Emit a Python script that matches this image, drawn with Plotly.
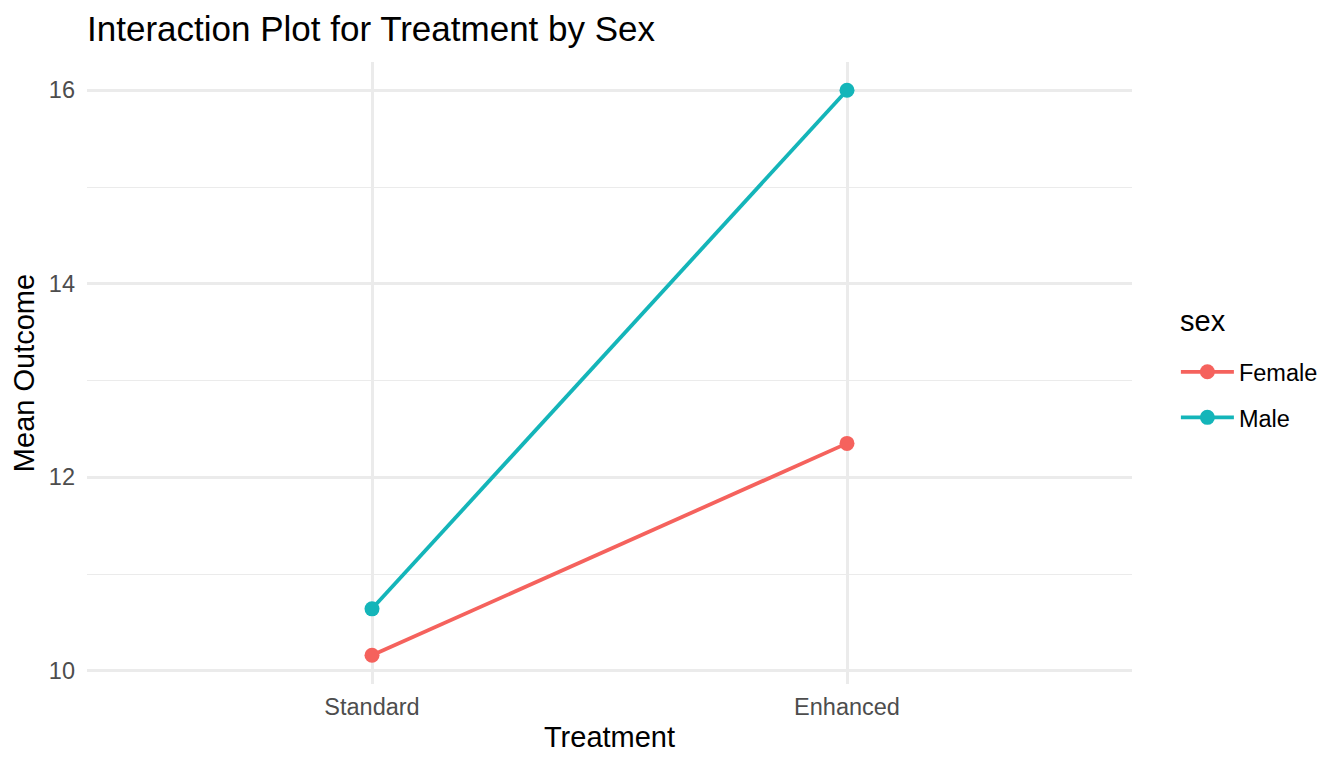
import plotly.graph_objects as go

treatments = ["Standard", "Enhanced"]
female_means = [10.16, 12.35]
male_means = [10.64, 16.0]
y_ticks = [10, 12, 14, 16]

colors = {"Female": "#F5625D", "Male": "#14B5B9"}
FONT = "Liberation Sans, Arial, Helvetica, sans-serif"

fig = go.Figure()
for name, vals in [("Female", female_means), ("Male", male_means)]:
    fig.add_trace(go.Scatter(
        x=treatments, y=vals, name=name, mode="lines+markers", legendgroup=name,
        line=dict(color=colors[name], width=3.8),
        marker=dict(color=colors[name], size=15),
    ))

fig.update_layout(
    width=1344, height=768,
    paper_bgcolor="white", plot_bgcolor="white",
    margin=dict(l=79, r=220, t=54, b=92),
    title=dict(text="Interaction Plot for Treatment by Sex", x=0, xref="paper",
               xanchor="left", y=0.973, yref="container", yanchor="middle",
               font=dict(family=FONT, size=35, color="black")),
    font=dict(family=FONT, color="#4D4D4D"),
    legend=dict(
        font=dict(size=23.5, color="black"),
        x=1.042, xanchor="left", y=0.4646, yanchor="middle",
        itemwidth=53, tracegroupgap=12,
    ),
    showlegend=True,
    annotations=[dict(
        text="sex", xref="paper", yref="paper", x=1.044, y=0.5836,
        xanchor="left", yanchor="middle", showarrow=False,
        font=dict(family=FONT, size=29, color="black"),
    )],
)
fig.update_xaxes(
    type="category", range=[-0.6, 1.6],
    showgrid=True, gridcolor="#EBEBEB", gridwidth=2.6,
    zeroline=False, showline=False, ticks="", ticklabelstandoff=6,
    tickfont=dict(size=23.5, color="#4D4D4D"),
    title=dict(text="Treatment", font=dict(size=29, color="black"), standoff=8),
)
fig.update_yaxes(
    range=[9.863, 16.292], tickvals=y_ticks, ticktext=[str(v) for v in y_ticks],
    showgrid=True, gridcolor="#EBEBEB", gridwidth=2.6,
    minor=dict(tickvals=[11, 13, 15], showgrid=True, gridcolor="#EBEBEB", gridwidth=1.3),
    zeroline=False, showline=False, ticks="", ticklabelstandoff=11,
    tickfont=dict(size=23.5, color="#4D4D4D"),
    title=dict(text="Mean Outcome", font=dict(size=29, color="black"), standoff=8),
)

fig.write_html("out.html")
